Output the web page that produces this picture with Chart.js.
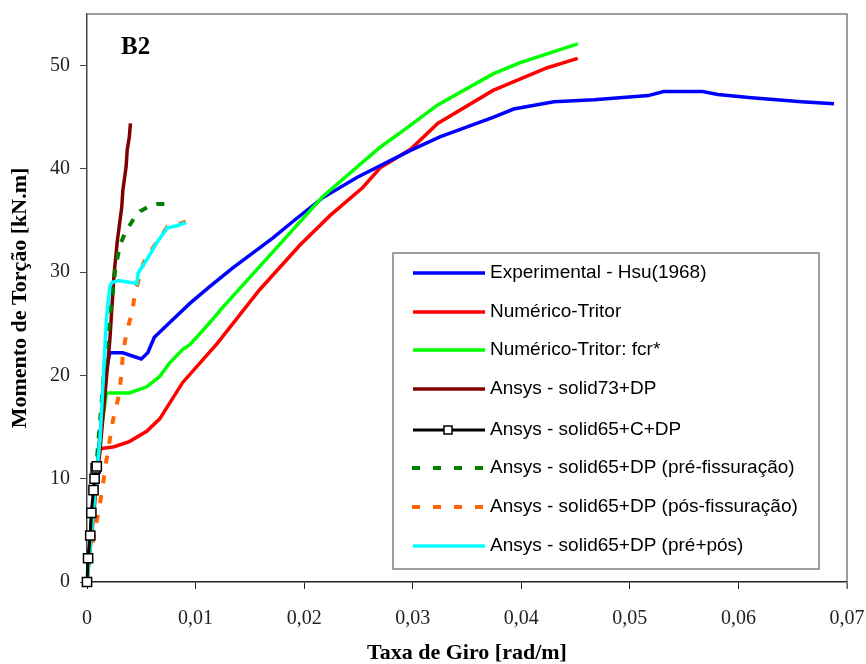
<!DOCTYPE html>
<html>
<head>
<meta charset="utf-8">
<script src="https://cdn.jsdelivr.net/npm/chart.js@4.4.1/dist/chart.umd.min.js"></script>
<style>
  html, body { margin: 0; padding: 0; background: #fff; }
  #wrap { width: 866px; height: 664px; position: relative; }
</style>
</head>
<body>
<div id="wrap"><canvas id="chart"></canvas></div>
<script>
// Experimental - Hsu(1968)
const expX = [0, 0.0010, 0.0017, 0.0021, 0.0033, 0.0050, 0.0056, 0.0062, 0.0076, 0.0095, 0.0113, 0.0134, 0.0171, 0.0193, 0.0217, 0.0249, 0.0298, 0.0325, 0.0374, 0.0393, 0.0430, 0.0467, 0.0517, 0.0531, 0.0567, 0.0581, 0.0612, 0.0658, 0.0688];
const expY = [0, 12.0, 20.0, 22.2, 22.2, 21.6, 22.2, 23.7, 25.1, 27.0, 28.6, 30.4, 33.3, 35.2, 37.2, 39.2, 41.8, 43.1, 45.0, 45.8, 46.5, 46.7, 47.1, 47.5, 47.5, 47.2, 46.9, 46.5, 46.3];

// Numérico-Tritor
const tritorX = [0, 0.0012, 0.0025, 0.0039, 0.0055, 0.0067, 0.0088, 0.0120, 0.0159, 0.0196, 0.0224, 0.0254, 0.0270, 0.0298, 0.0323, 0.0374, 0.0424, 0.0452];
const tritorY = [0, 12.9, 13.1, 13.6, 14.6, 15.8, 19.3, 23.1, 28.3, 32.6, 35.5, 38.2, 40.1, 41.9, 44.4, 47.6, 49.8, 50.7];

// Numérico-Tritor: fcr*
const fcrX = [0, 0.0012, 0.0018, 0.0039, 0.0055, 0.0067, 0.0076, 0.0088, 0.0095, 0.0113, 0.0125, 0.0150, 0.0187, 0.0217, 0.0270, 0.0295, 0.0323, 0.0374, 0.0399, 0.0452];
const fcrY = [0, 14.0, 18.3, 18.3, 18.9, 19.9, 21.2, 22.5, 23.0, 25.1, 26.6, 29.5, 33.8, 37.3, 42.1, 44.0, 46.2, 49.2, 50.3, 52.1];

// Ansys - solid73+DP
const s73X = [0, 0.0005, 0.0012, 0.0021, 0.0025, 0.0028, 0.0032, 0.0033, 0.0036, 0.0037, 0.0039, 0.0040];
const s73Y = [0, 7.3, 12.8, 23.4, 29.9, 33.1, 36.3, 37.9, 40.2, 41.8, 43.1, 44.4];

// Ansys - solid65+C+DP
const s65cX = [0, 0.0001, 0.0003, 0.0004, 0.0006, 0.0007, 0.0008, 0.0009];
const s65cY = [0, 2.3, 4.5, 6.7, 8.9, 10.0, 11.0, 11.2];

// Ansys - solid65+DP (pré-fissuração)
const preX = [0, 0.0010, 0.0017, 0.0026, 0.0030, 0.0035, 0.0042, 0.0049, 0.0056, 0.0065, 0.0075];
const preY = [0, 13.0, 22.0, 30.2, 32.5, 33.8, 35.0, 35.9, 36.3, 36.6, 36.6];

// Ansys - solid65+DP (pós-fissuração)
const posX = [0, 0.0006, 0.0011, 0.0014, 0.0017, 0.0024, 0.0029, 0.0032, 0.0033, 0.0037, 0.0042, 0.0044, 0.0047, 0.0052, 0.0061, 0.0074, 0.0083, 0.0091];
const posY = [0, 4.3, 7.0, 8.9, 11.2, 15.7, 17.9, 20.3, 22.2, 24.4, 26.3, 28.0, 29.0, 30.9, 32.4, 34.4, 34.6, 34.9];

// Ansys - solid65+DP (pré+pós)
const bothX = [0, 0.0006, 0.0012, 0.0018, 0.0021, 0.0023, 0.0029, 0.0040, 0.0046, 0.0047, 0.0055, 0.0064, 0.0074, 0.0083, 0.0091];
const bothY = [0, 7.3, 13.8, 25.6, 28.6, 29.0, 29.2, 29.0, 28.9, 29.9, 31.2, 32.8, 34.3, 34.5, 34.8];

const xTicks = [0, 0.01, 0.02, 0.03, 0.04, 0.05, 0.06, 0.07];
const yTicks = [0, 10, 20, 30, 40, 50];

const seriesNames = [
    'Experimental - Hsu(1968)',
    'Numérico-Tritor',
    'Numérico-Tritor: fcr*',
    'Ansys - solid73+DP',
    'Ansys - solid65+C+DP',
    'Ansys - solid65+DP (pré-fissuração)',
    'Ansys - solid65+DP (pós-fissuração)',
    'Ansys - solid65+DP (pré+pós)'
];

function pts(xs, ys) {
    return xs.map((x, i) => ({ x: x, y: ys[i] }));
}

function line(label, xs, ys, color, extra) {
    return Object.assign({
        label: label,
        data: pts(xs, ys),
        borderColor: color,
        backgroundColor: color,
        borderWidth: 3.5,
        pointRadius: 0,
        fill: false,
        tension: 0
    }, extra || {});
}

const datasets = [
    line(seriesNames[0], expX, expY, '#0000ff', { order: 6 }),
    line(seriesNames[1], tritorX, tritorY, '#ff0000', { order: 7 }),
    line(seriesNames[2], fcrX, fcrY, '#00ff00', { order: 5 }),
    line(seriesNames[3], s73X, s73Y, '#800000', { order: 4 }),
    line(seriesNames[4], s65cX, s65cY, '#000000', {
        order: 0, pointRadius: 6.5, pointStyle: 'rect', pointBackgroundColor: '#ffffff',
        pointBorderColor: '#000000', pointBorderWidth: 1.5, borderWidth: 3, clip: 8
    }),
    line(seriesNames[5], preX, preY, '#008000', { order: 3, borderDash: [8, 10], borderWidth: 4 }),
    line(seriesNames[6], posX, posY, '#ff6600', { order: 2, borderDash: [8, 12], borderWidth: 4 }),
    line(seriesNames[7], bothX, bothY, '#00ffff', { order: 1 })
];

// frame, B2 label and legend box
const decorPlugin = {
    id: 'decor',
    afterDraw(chart) {
        const ctx = chart.ctx;
        const a = chart.chartArea;
        ctx.save();
        ctx.strokeStyle = '#808080';
        ctx.lineWidth = 1.5;
        ctx.beginPath();
        ctx.moveTo(a.left, a.top);
        ctx.lineTo(a.right, a.top);
        ctx.lineTo(a.right, a.bottom + 7);
        ctx.stroke();

        ctx.fillStyle = '#000';
        ctx.font = 'bold 25px "Liberation Serif", serif';
        ctx.textBaseline = 'middle';
        ctx.textAlign = 'left';
        ctx.fillText('B2', 121, 48);

        // legend
        const bx = 393, by = 253, bw = 426, bh = 316;
        ctx.fillStyle = '#fff';
        ctx.fillRect(bx, by, bw, bh);
        ctx.strokeStyle = '#808080';
        ctx.lineWidth = 1.5;
        ctx.strokeRect(bx, by, bw, bh);
        const rowY = [273, 312, 350, 389, 430, 468, 507, 546];
        ctx.font = '19px "Liberation Sans", Arial, sans-serif';
        chart.data.datasets.forEach((ds, i) => {
            const y = rowY[i];
            ctx.save();
            ctx.strokeStyle = ds.borderColor;
            ctx.lineWidth = ds.borderWidth;
            ctx.setLineDash(ds.borderDash ? [8, 13] : []);
            ctx.beginPath();
            if (ds.borderDash) {
                ctx.moveTo(412, y); ctx.lineTo(486, y);
            } else {
                ctx.moveTo(413, y); ctx.lineTo(485, y);
            }
            ctx.stroke();
            if (ds.pointStyle === 'rect') {
                ctx.setLineDash([]);
                ctx.lineWidth = 1.5;
                ctx.fillStyle = '#fff';
                ctx.fillRect(444, y - 4, 8, 8);
                ctx.strokeRect(444, y - 4, 8, 8);
            }
            ctx.restore();
            ctx.fillStyle = '#000';
            ctx.textBaseline = 'middle';
            ctx.fillText(ds.label, 490, y);
        });
        ctx.restore();
    }
};

const serif = '"Liberation Serif", "Times New Roman", serif';

function noPad(scale) {
    scale.paddingTop = 0;
    scale.paddingBottom = 0;
    scale.paddingLeft = 0;
    scale.paddingRight = 0;
}

new Chart(document.getElementById('chart'), {
    type: 'line',
    data: { datasets: datasets },
    options: {
        responsive: true,
        maintainAspectRatio: false,
        animation: false,
        layout: { padding: { top: 14, right: 19, left: 0, bottom: 0 } },
        plugins: {
            legend: { display: false },
            tooltip: { enabled: false }
        },
        scales: {
            x: {
                type: 'linear',
                min: 0,
                max: 0.07,
                afterBuildTicks: function (scale) {
                    scale.ticks = xTicks.map(v => ({ value: v }));
                },
                afterFit: function (scale) { scale.height = 82; noPad(scale); },
                grid: { drawOnChartArea: false, drawTicks: true, tickLength: 7, color: '#222' },
                border: { color: '#222', width: 1.5 },
                ticks: {
                    color: '#222',
                    padding: 18,
                    maxRotation: 0,
                    font: { family: serif, size: 20 },
                    callback: function (v) {
                        return v === 0 ? '0' : v.toFixed(2).replace('.', ',');
                    }
                },
                title: {
                    display: true,
                    text: 'Taxa de Giro [rad/m]',
                    color: '#000',
                    font: { family: serif, size: 22, weight: 'bold', lineHeight: 1 },
                    padding: { top: 0, bottom: 0 }
                }
            },
            y: {
                type: 'linear',
                min: 0,
                max: 55,
                afterBuildTicks: function (scale) {
                    scale.ticks = yTicks.map(v => ({ value: v }));
                },
                afterFit: function (scale) { scale.width = 87; noPad(scale); },
                grid: { drawOnChartArea: false, drawTicks: true, tickLength: 7, color: '#444' },
                border: { color: '#444', width: 1.5 },
                ticks: {
                    color: '#222',
                    padding: 10,
                    font: { family: serif, size: 20 }
                },
                title: {
                    display: true,
                    text: 'Momento de Torção [kN.m]',
                    color: '#000',
                    font: { family: serif, size: 22, weight: 'bold', lineHeight: 1.2 },
                    padding: { top: 7, bottom: 0 }
                }
            }
        }
    },
    plugins: [decorPlugin]
});
</script>
</body>
</html>
